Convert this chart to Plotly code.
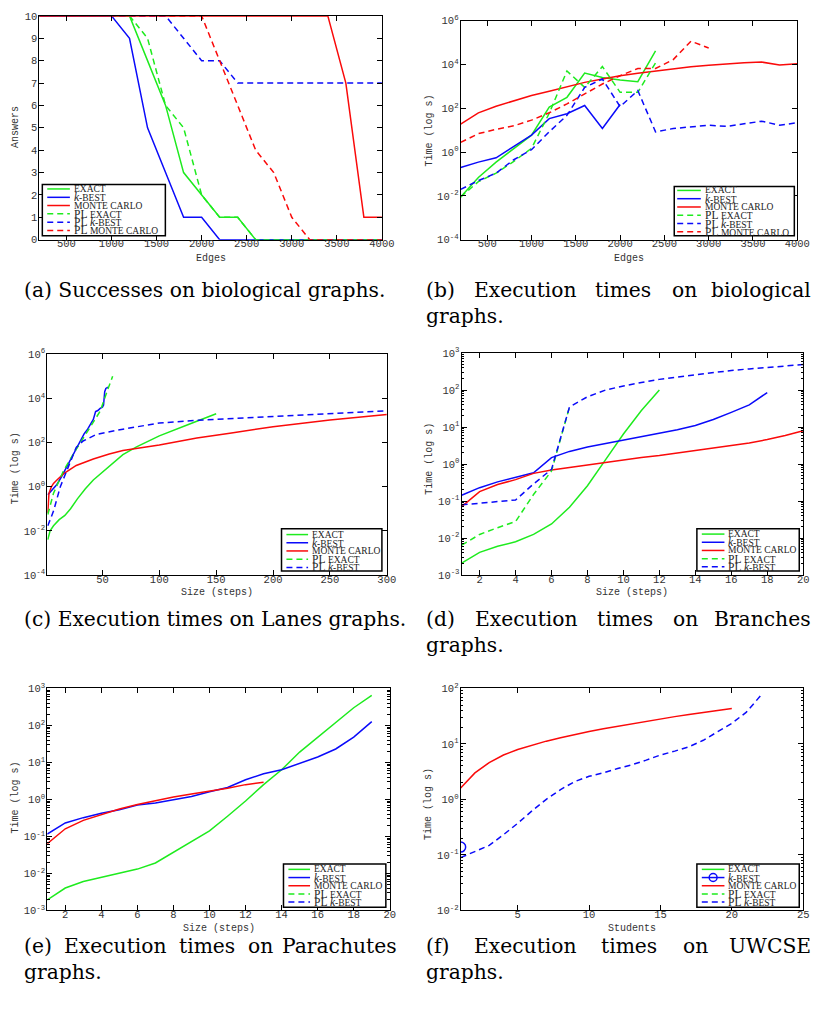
import plotly.graph_objects as go

# ---------------- data ----------------
EDGES = [200, 400, 600, 800, 1000, 1200, 1400, 1600, 1800, 2000,
         2200, 2400, 2600, 2800, 3000, 3200, 3400, 3600, 3800, 4000]

# (a) Successes on biological graphs (answers)
A_EXACT = [10, 10, 10, 10, 10, 10, 8, 6, 3, 2, 1, 1, 0, 0, 0, 0, 0, 0, 0, 0]
A_KBEST = [10, 10, 10, 10, 10, 9, 5, 3, 1, 1, 0, 0, 0, 0, 0, 0, 0, 0, 0, 0]
A_MC = [10, 10, 10, 10, 10, 10, 10, 10, 10, 10, 10, 10, 10, 10, 10, 10, 10, 7, 1, 1]
A_PL_EXACT = [10, 10, 10, 10, 10, 10, 9, 6, 5, 2, 1, 1, 0, 0, 0, 0, 0, 0, 0, 0]
A_PL_KBEST = [10, 10, 10, 10, 10, 10, 10, 10, 9, 8, 8, 7, 7, 7, 7, 7, 7, 7, 7, 7]
A_PL_MC = [10, 10, 10, 10, 10, 10, 10, 10, 10, 10, 8, 6, 4, 3, 1, 0, 0, 0, 0, 0]

# (b) Execution times on biological graphs (s)
B_EXACT = [0.009, 0.07, 0.35, 1.5, 6, 115, 320, 4100, 2600, 2000, 1650, 42000]
B_KBEST = [0.2, 0.35, 0.55, 1.8, 6, 34, 57, 135, 12, 150]
B_MC = [19, 62, 125, 230, 390, 610, 1000, 1540, 2200, 3100, 4000, 5100,
        6100, 7900, 9400, 11000, 12000, 13000, 9600, 11000]
B_PL_EXACT = [0.009, 0.045, 0.11, 0.38, 1.5, 60, 5100, 910, 8100, 540, 540, 12000]
B_PL_KBEST = [0.02, 0.05, 0.11, 0.45, 1.3, 8.5, 48, 910, 2200, 120, 650, 8.5,
              12, 14, 17, 15, 19, 26, 17, 22]
B_PL_MC = [2.8, 7, 11, 16, 29, 63, 160, 460, 1300, 3100, 6600, 6600, 17000, 117000, 57000]

# (c) Lanes graphs
C_EXACT_X = [2, 4, 7, 12, 17, 22, 28, 35, 42, 50, 57, 68, 80, 100, 125, 150]
C_EXACT = [0.004, 0.01, 0.017, 0.032, 0.05, 0.1, 0.28, 0.8, 2, 4.5, 9, 28, 63, 200, 630, 2000]
C_KBEST_X = [2, 5, 10, 14, 18, 22, 26, 30, 34, 37, 40, 42, 44, 46, 48, 50, 51, 52, 53, 55]
C_KBEST = [0.43, 0.63, 1.26, 2.8, 7, 16, 40, 110, 250, 400, 700, 1100, 2500, 2800,
           3500, 4000, 5000, 20000, 28000, 32000]
C_MC_X = [2, 3, 5, 7, 10, 16, 27, 42, 56, 68, 100, 133, 162, 200, 250, 300]
C_MC = [0.065, 0.5, 0.95, 1.4, 2, 3.9, 9.1, 18, 30, 43, 76, 160, 260, 520, 1050, 1850]
C_PL_EXACT_X = [2, 7, 16, 27, 39, 48, 55, 59]
C_PL_EXACT = [0.055, 0.5, 5.5, 50, 470, 2600, 27500, 100000]
C_PL_KBEST_X = [2, 7, 13, 19, 27, 33, 45, 68, 100, 133, 162, 200, 250, 300]
C_PL_KBEST = [0.017, 0.078, 1.0, 5.5, 60, 117, 235, 400, 760, 1000, 1200, 1480, 2000, 2700]

# (d) Branches graphs
STEPS = [1, 2, 3, 4, 5, 6, 7, 8, 9, 10, 11, 12, 13, 14, 15, 16, 17, 18, 19, 20]
D_EXACT = [0.0021, 0.0041, 0.006, 0.0079, 0.0125, 0.024, 0.068, 0.26, 1.3, 6.5, 28, 100]
D_KBEST = [0.144, 0.23, 0.33, 0.44, 0.58, 1.5, 2.2, 2.9, 3.6, 4.4, 5.4, 6.9, 8.5,
           11, 16, 25, 40, 86]
D_MC = [0.071, 0.18, 0.28, 0.38, 0.56, 0.69, 0.81, 0.95, 1.1, 1.3, 1.5, 1.7, 2.0,
        2.3, 2.7, 3.2, 3.7, 4.6, 5.9, 8]
D_PL_EXACT = [0.0064, 0.0125, 0.019, 0.028, 0.15, 0.65, 35]
D_PL_KBEST = [0.079, 0.087, 0.095, 0.107, 0.29, 0.72, 35, 66, 100, 130, 160, 195,
              225, 260, 300, 340, 375, 415, 450, 490]

# (e) Parachutes graphs
E_EXACT = [0.0019, 0.004, 0.006, 0.0078, 0.01, 0.013, 0.019, 0.037, 0.069, 0.14,
           0.35, 0.9, 2.5, 6.3, 19, 48, 120, 300, 650]
E_KBEST = [0.115, 0.23, 0.32, 0.42, 0.52, 0.7, 0.8, 1.0, 1.2, 1.6, 2.1, 3.4, 4.9,
           6.3, 9.4, 14, 23, 48, 126]
E_MC = [0.063, 0.16, 0.27, 0.38, 0.55, 0.73, 0.93, 1.15, 1.4, 1.65, 2.0, 2.5, 2.9]

# (f) UWCSE graphs
STUDENTS = [1, 2, 3, 4, 5, 6, 7, 8, 9, 10, 11, 12, 13, 14, 15, 16, 17, 18, 19, 20, 21, 22]
F_MC = [1.6, 3.0, 4.6, 6.3, 7.9, 9.4, 11.2, 12.9, 14.8, 16.7, 18.7, 20.8, 23, 25.7,
        28, 31, 34, 37, 40, 43.5]
F_PL_KBEST = [0.089, 0.115, 0.148, 0.23, 0.37, 0.62, 1.0, 1.5, 2.1, 2.6, 3.0, 3.6,
              4.2, 5.1, 6.3, 7.4, 8.9, 11.6, 16.3, 23.5, 37, 73]
F_KBEST_X = [1]
F_KBEST = [0.138]

# tick labels
A_XTICKS = [500, 1000, 1500, 2000, 2500, 3000, 3500, 4000]
A_YTICKS = [0, 1, 2, 3, 4, 5, 6, 7, 8, 9, 10]
C_XTICKS = [50, 100, 150, 200, 250, 300]
D_XTICKS = [2, 4, 6, 8, 10, 12, 14, 16, 18, 20]
F_XTICKS = [5, 10, 15, 20, 25]
LOG_B = [-4, -2, 0, 2, 4, 6]
LOG_D = [-3, -2, -1, 0, 1, 2, 3]
LOG_F = [-2, -1, 0, 1, 2]

SC = "<span style='font-size:9.5px'>%s</span>"
LABELS = {
    "exact": SC % "EXACT",
    "kbest": "<i>k</i>" + SC % "-BEST",
    "mc": SC % "MONTE CARLO",
    "pl_exact": "PL " + SC % "EXACT",
    "pl_kbest": "PL <i>k</i>" + SC % "-BEST",
    "pl_mc": "PL " + SC % "MONTE CARLO",
}

# ---------------- styling ----------------
W, H = 828, 1009
GREEN = "rgb(30,235,30)"
BLUE = "rgb(10,10,250)"
RED = "rgb(250,10,10)"
DASH = "6px,4px"
LW = 1.5
MONO = "Liberation Mono, DejaVu Sans Mono, monospace"
TICKFONT = dict(family=MONO, size=10.5, color="#333")
SERIF = "DejaVu Serif, Liberation Serif, serif"
LSERIF = "Liberation Serif, DejaVu Serif, serif"

STYLE = {
    "exact": (GREEN, "solid"), "kbest": (BLUE, "solid"), "mc": (RED, "solid"),
    "pl_exact": (GREEN, DASH), "pl_kbest": (BLUE, DASH), "pl_mc": (RED, DASH),
}


def fx(x):
    return x / W


def fy(y):
    return 1 - y / H


BOXES = [(40, 9, 388, 236), (468, 14, 810, 236), (48, 352, 393, 576),
         (469, 351, 816, 576), (48, 691, 396, 916), (468, 691, 816, 916)]

fig = go.Figure()
shapes, annots = [], []

axis_common = dict(showline=True, linecolor="black", linewidth=1, mirror="ticks",
                   ticks="inside", ticklen=5, tickcolor="black", tickwidth=1,
                   showgrid=False, zeroline=False, tickfont=TICKFONT)


def pow_text(e):
    return "10<sup>%d</sup>" % e


def minor_vals(lo, hi):
    vals = []
    for e in range(lo, hi):
        for m in range(2, 10):
            vals.append(m * 10 ** e)
    return vals


xcfg = [
    dict(range=[200, 4000], tickvals=A_XTICKS),
    dict(range=[200, 4000], tickvals=A_XTICKS),
    dict(range=[1.5, 300], tickvals=C_XTICKS),
    dict(range=[1, 20], tickvals=D_XTICKS),
    dict(range=[1, 20], tickvals=D_XTICKS),
    dict(range=[1, 25], tickvals=F_XTICKS),
]
ycfg = [
    dict(type="linear", range=[0, 10], tickvals=A_YTICKS),
    dict(type="log", range=[-4, 6], tickvals=[10 ** e for e in LOG_B],
         ticktext=[pow_text(e) for e in LOG_B]),
    dict(type="log", range=[-4, 6], tickvals=[10 ** e for e in LOG_B],
         ticktext=[pow_text(e) for e in LOG_B]),
    dict(type="log", range=[-3, 3], tickvals=[10 ** e for e in LOG_D],
         ticktext=[pow_text(e) for e in LOG_D],
         minor=dict(ticks="inside", ticklen=2.5, tickcolor="black",
                    tickmode="array", tickvals=minor_vals(-3, 3))),
    dict(type="log", range=[-3, 3], tickvals=[10 ** e for e in LOG_D],
         ticktext=[pow_text(e) for e in LOG_D],
         minor=dict(ticks="inside", ticklen=2.5, tickcolor="black",
                    tickmode="array", tickvals=minor_vals(-3, 3))),
    dict(type="log", range=[-2, 2], tickvals=[10 ** e for e in LOG_F],
         ticktext=[pow_text(e) for e in LOG_F],
         minor=dict(ticks="inside", ticklen=2.5, tickcolor="black",
                    tickmode="array", tickvals=minor_vals(-2, 2))),
]

layout_axes = {}
for i, (x0, y0, x1, y1) in enumerate(BOXES):
    n = "" if i == 0 else str(i + 1)
    layout_axes["xaxis" + n] = dict(domain=[fx(x0), fx(x1)], anchor="y" + n,
                                    tickmode="array", ticklabelstandoff=-6,
                                    **axis_common, **xcfg[i])
    layout_axes["yaxis" + n] = dict(domain=[fy(y1), fy(y0)], anchor="x" + n,
                                    tickmode="array", ticklabelstandoff=-1,
                                    **axis_common, **ycfg[i])


def add(panel, x, y, key, marker=False):
    n = "" if panel == 0 else str(panel + 1)
    color, dash = STYLE[key]
    fig.add_trace(go.Scatter(
        x=x, y=y, mode="lines+markers" if marker else "lines",
        line=dict(color=color, width=LW, dash=dash),
        marker=dict(symbol="circle-open", size=10, color=color, line=dict(width=1.5, color=color)),
        xaxis="x" + n, yaxis="y" + n, showlegend=False, hoverinfo="skip"))


# (a)
add(0, EDGES, A_EXACT, "exact")
add(0, EDGES, A_KBEST, "kbest")
add(0, EDGES, A_MC, "mc")
add(0, EDGES, A_PL_EXACT, "pl_exact")
add(0, EDGES, A_PL_KBEST, "pl_kbest")
add(0, EDGES, A_PL_MC, "pl_mc")
# (b)
add(1, EDGES[:len(B_EXACT)], B_EXACT, "exact")
add(1, EDGES[:len(B_KBEST)], B_KBEST, "kbest")
add(1, EDGES[:len(B_MC)], B_MC, "mc")
add(1, EDGES[:len(B_PL_EXACT)], B_PL_EXACT, "pl_exact")
add(1, EDGES[:len(B_PL_KBEST)], B_PL_KBEST, "pl_kbest")
add(1, EDGES[:len(B_PL_MC)], B_PL_MC, "pl_mc")
# (c)
add(2, C_EXACT_X, C_EXACT, "exact")
add(2, C_KBEST_X, C_KBEST, "kbest")
add(2, C_MC_X, C_MC, "mc")
add(2, C_PL_EXACT_X, C_PL_EXACT, "pl_exact")
add(2, C_PL_KBEST_X, C_PL_KBEST, "pl_kbest")
# (d)
add(3, STEPS[:len(D_EXACT)], D_EXACT, "exact")
add(3, STEPS[:len(D_KBEST)], D_KBEST, "kbest")
add(3, STEPS[:len(D_MC)], D_MC, "mc")
add(3, STEPS[:len(D_PL_EXACT)], D_PL_EXACT, "pl_exact")
add(3, STEPS[:len(D_PL_KBEST)], D_PL_KBEST, "pl_kbest")
# (e)
add(4, STEPS[:len(E_EXACT)], E_EXACT, "exact")
add(4, STEPS[:len(E_KBEST)], E_KBEST, "kbest")
add(4, STEPS[:len(E_MC)], E_MC, "mc")
# (f)
add(5, F_KBEST_X, F_KBEST, "kbest", marker=True)
add(5, STUDENTS[:len(F_MC)], F_MC, "mc")
add(5, STUDENTS[:len(F_PL_KBEST)], F_PL_KBEST, "pl_kbest")


# ---------------- hand-drawn legends ----------------
def draw_legend(box, lx, tx, ys, keys, marker_key=None):
    x0, y0, x1, y1 = box
    shapes.append(dict(type="rect", xref="paper", yref="paper", x0=fx(x0), x1=fx(x1),
                       y0=fy(y1), y1=fy(y0), line=dict(color="black", width=1.5),
                       fillcolor="white", layer="above"))
    for key, y in zip(keys, ys):
        color, dash = STYLE[key]
        shapes.append(dict(type="line", xref="paper", yref="paper", x0=fx(lx[0]), x1=fx(lx[1]),
                           y0=fy(y), y1=fy(y), line=dict(color=color, width=LW, dash=dash)))
        if key == marker_key:
            cx = (lx[0] + lx[1]) / 2
            shapes.append(dict(type="circle", xref="paper", yref="paper",
                               x0=fx(cx - 4), x1=fx(cx + 4), y0=fy(y + 4), y1=fy(y - 4),
                               line=dict(color=color, width=1.5)))
        annots.append(dict(xref="paper", yref="paper", x=fx(tx), y=fy(y), text=LABELS[key],
                           xanchor="left", yanchor="middle", showarrow=False,
                           font=dict(family=LSERIF, size=11.5, color="#222")))


SIX = ["exact", "kbest", "mc", "pl_exact", "pl_kbest", "pl_mc"]
FIVE = SIX[:5]
draw_legend((43, 180, 168, 232), (48, 71), 73, [184.5, 193, 201.3, 209.7, 218.2, 226.6], SIX)
draw_legend((685, 182, 807, 232), (688, 712), 714, [186, 194.4, 202.8, 211.2, 219.6, 228], SIX)
draw_legend((286, 529, 388, 572), (291, 313), 315, [535, 543.3, 551.6, 560, 568.3], FIVE)
draw_legend((708, 529, 812, 572), (713, 736), 738, [534.5, 542.8, 551.1, 559.4, 567.7], FIVE)
draw_legend((288, 869, 392, 913), (293, 315), 317, [874.5, 882.8, 891.1, 899.4, 907.7], FIVE)
draw_legend((708, 869, 812, 913), (713, 736), 738, [874.5, 882.8, 891.1, 899.4, 907.7], FIVE,
            marker_key="kbest")

# ---------------- axis titles ----------------
TITLEFONT = dict(family=MONO, size=10, color="#333")
axis_titles = [
    ("Edges", 214, 255, 0), ("Answers", 16, 122, -90),
    ("Edges", 639, 255, 0), ("Time (log s)", 436, 125, -90),
    ("Size (steps)", 220, 594, 0), ("Time (log s)", 16, 468, -90),
    ("Size (steps)", 642, 594, 0), ("Time (log s)", 436, 458, -90),
    ("Size (steps)", 222, 934, 0), ("Time (log s)", 16, 802, -90),
    ("Students", 642, 934, 0), ("Time (log s)", 436, 808, -90),
]
for text, x, y, ang in axis_titles:
    annots.append(dict(xref="paper", yref="paper", x=fx(x), y=fy(y), text=text,
                       textangle=ang, xanchor="center", yanchor="middle",
                       showarrow=False, font=TITLEFONT))

# ---------------- captions ----------------
CAPFONT = dict(family=SERIF, size=20.3, color="black")
captions = [
    ("(a) Successes on biological graphs.", 22, 287, "left"),
    ("(b)", 431, 287, "left"), ("Execution", 480, 287, "left"), ("times", 602, 287, "left"),
    ("on", 681, 287, "left"), ("biological", 826, 287, "right"), ("graphs.", 431, 313, "left"),
    ("(c) Execution times on Lanes graphs.", 22, 621, "left"),
    ("(d)", 431, 621, "left"), ("Execution", 481, 621, "left"), ("times", 604, 621, "left"),
    ("on", 682, 621, "left"), ("Branches", 826, 621, "right"), ("graphs.", 431, 647, "left"),
    ("(e)", 22, 952, "left"), ("Execution", 63, 952, "left"), ("times", 180, 952, "left"),
    ("on", 250, 952, "left"), ("Parachutes", 405, 952, "right"), ("graphs.", 22, 979, "left"),
    ("(f)", 431, 952, "left"), ("Execution", 480, 952, "left"), ("times", 609, 952, "left"),
    ("on", 692, 952, "left"), ("UWCSE", 826, 952, "right"), ("graphs.", 431, 979, "left"),
]
for text, x, y, anc in captions:
    annots.append(dict(xref="paper", yref="paper", x=fx(x), y=fy(y), text=text,
                       xanchor=anc, yanchor="middle", showarrow=False, font=CAPFONT))

fig.update_layout(
    width=W, height=H, margin=dict(l=0, r=0, t=0, b=0),
    paper_bgcolor="white", plot_bgcolor="white", showlegend=False,
    shapes=shapes, annotations=annots, **layout_axes)

fig.write_html("out.html", config={"displayModeBar": False},
               post_script="document.body.style.margin='0px';"
                           "document.documentElement.style.margin='0px';")
